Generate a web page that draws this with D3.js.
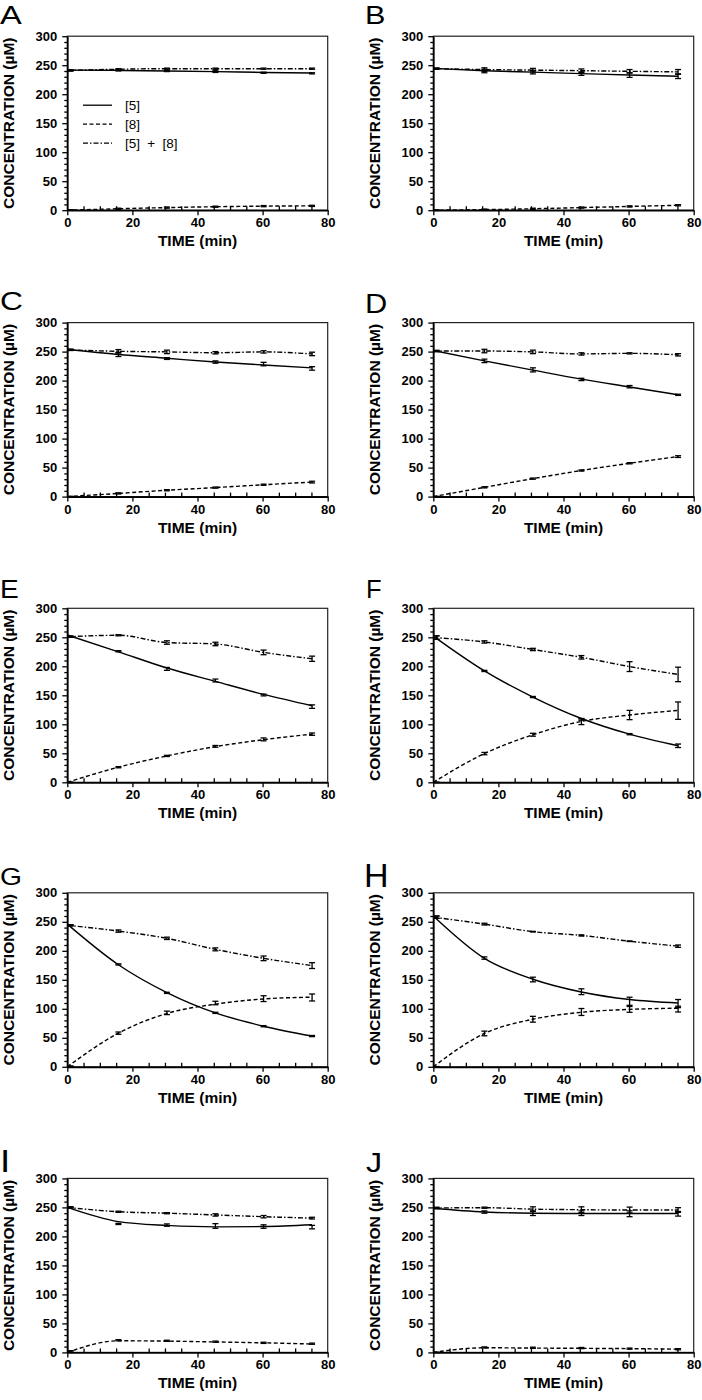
<!DOCTYPE html>
<html><head><meta charset="utf-8">
<script src="https://cdn.jsdelivr.net/npm/d3@7/dist/d3.min.js"></script>
<style>
body{margin:0;background:#fff}
svg{display:block}
text{font-family:"Liberation Sans",Arial,Helvetica,sans-serif;fill:#000}
</style>
</head><body>
<svg id="chart" width="702" height="1400"></svg>
<script>
// ---------- DATA ----------
const panelLabels = ["A","B","C","D","E","F","G","H","I","J"];
const times    = [1, 15.7, 30.6, 45.5, 60.3, 75.2];   // sampling times (min)
const fitTimes = [0, 15.7, 30.6, 45.5, 60.3, 75.2];   // curve knots (min)
const xTickValues = [0, 20, 40, 60, 80];
const yTickValues = [0, 50, 100, 150, 200, 250, 300];
const legendLabels = ["[5]", "[8]", "[5] + [8]"];
const xTitle = "TIME (min)";
const yTitle = "CONCENTRATION (\u00B5M)";

// [5] mean and error
const conc5 = [
  [241, 241, 240, 239, 237, 236],
  [244, 240, 238, 235.5, 233, 231],
  [253, 245, 238, 232, 228.5, 221],
  [251, 234, 218.5, 202, 189.5, 175.5],
  [251, 226, 195.5, 175.5, 150.5, 130.5],
  [249.5, 192, 147, 108.5, 83, 63],
  [244, 176.5, 127.5, 93, 70, 53],
  [258, 187.5, 150.5, 129.5, 112, 109],
  [250, 221.5, 219.5, 218, 217, 216],
  [249, 242, 240, 240, 239, 239]
];
const conc5Err = [
  [1, 1, 1, 1.5, 1, 1],
  [1, 3, 3, 3, 4, 4],
  [1, 3.5, 1.5, 2, 3, 3],
  [1, 3, 3.5, 2, 2, 1],
  [1, 1, 2.5, 2.5, 1.5, 3],
  [3, 1, 1, 1.5, 1, 3],
  [1, 1, 1, 1, 1, 1],
  [2, 2, 4, 5, 8, 7],
  [1, 1, 2, 4, 3, 3],
  [1, 2, 4, 4, 5, 4]
];
// [8] mean and error
const conc8 = [
  [0.5, 2.5, 4.5, 6, 7, 7.5],
  [0, 1, 2.5, 4.5, 6.5, 8.5],
  [0, 5.5, 11, 15.5, 20.5, 25],
  [0, 16, 31, 45, 57.5, 69],
  [0, 26, 45.5, 62, 74, 83],
  [0, 49.5, 82, 104.5, 116, 123.5],
  [1, 58, 93, 110, 117.5, 119.5],
  [0, 57.5, 82, 94.5, 100, 99.5],
  [2, 21, 20, 18.5, 16.5, 15],
  [0, 8.5, 8, 7.5, 6.5, 5.5]
];
const conc8Err = [
  [0.5, 1, 1, 1, 1, 1],
  [0.5, 1, 1, 1, 1, 1],
  [0.5, 1, 1, 1, 1, 1.5],
  [0.5, 1, 1, 1, 1, 1.5],
  [0.5, 1, 1, 1.5, 2.5, 2],
  [0.5, 2, 2.5, 5, 8, 15],
  [0.5, 2, 3, 3, 5, 6],
  [0.5, 4, 5, 6, 6, 5],
  [1, 1, 1, 1, 1, 1],
  [0.5, 1, 1, 1, 1, 1]
];
// [5]+[8] mean and error
const concSum = [
  [241, 243, 244, 244, 244, 244],
  [244, 242.5, 241.5, 240.5, 239.5, 238.5],
  [253, 250.5, 249.5, 248, 249.5, 246],
  [251, 251, 249.5, 246, 247, 244.5],
  [251, 253.5, 241, 238.5, 224, 213],
  [249.5, 242, 229, 215.5, 199.5, 186],
  [244, 234, 221.5, 202.5, 187, 174.5],
  [258, 246, 233, 226.5, 216.5, 208],
  [250, 242.5, 240, 237, 234, 231.5],
  [249, 249.5, 247, 246, 245.5, 245.5]
];
const concSumErr = [
  [1, 1, 1, 1, 1, 1],
  [1, 3, 3, 3, 3, 4],
  [1, 3, 3, 2, 2, 3],
  [1, 3, 3, 2, 1, 2],
  [1, 1, 3, 3, 4, 4.5],
  [3, 2, 2, 3, 8.5, 12.5],
  [1, 2, 2, 2.5, 4, 5],
  [2, 1.5, 0.5, 1, 0.5, 2],
  [1, 1, 1, 2, 2, 1.5],
  [1, 1, 4, 5, 5, 4]
];
// fitted curves (values at fitTimes)
const fit5 = [
  [241.5, 241, 240, 239, 237.5, 236.5],
  [244.5, 240.5, 238, 235.5, 233, 231],
  [254, 245, 238.5, 232, 227, 222],
  [252, 234, 218, 202.5, 189, 175.5],
  [254, 225, 197, 174, 151.5, 132],
  [252, 192, 147, 110, 83, 63],
  [246, 176, 128, 93, 70, 53],
  [260, 187, 151, 129, 116, 110],
  [250, 225.5, 219, 216.5, 217, 220],
  [248.5, 242, 240, 239.5, 239.5, 239.5]
];
const fit8 = [
  [0, 2.5, 4.5, 6, 7, 7.5],
  [0, 1, 2.5, 4.5, 6.5, 8.5],
  [0, 5.5, 11, 15.5, 20.5, 25],
  [0, 16, 31, 45, 57.5, 69],
  [0, 26, 45.5, 61.5, 73.5, 83],
  [0, 49.5, 82, 105, 116, 124],
  [0, 58, 92, 108, 117, 120],
  [0, 57.5, 82, 94, 99, 101],
  [0, 20, 19.5, 18, 16.5, 14.5],
  [0, 8, 7.5, 7, 6.5, 5.5]
];

// ---------- LAYOUT ----------
const colX0 = [67.3, 433.3];
const rowTop = [36.2, 322.6, 608.3, 892.8, 1178.4];
const plotW = 260.4, plotH = 174;
// panel letter: font size, horizontal scale, baseline offset from plot top
const letterStyle = [
  {size: 25.5, sx: 1.28, dy: -12.7, dx: 0},
  {size: 25.5, sx: 1.2,  dy: -12.7, dx: -1},
  {size: 26.5, sx: 1.2,  dy: -13,   dx: 0},
  {size: 28,   sx: 1.1,  dy: -9.4,  dx: -1},
  {size: 25.5, sx: 1.1,  dy: -10,   dx: 0},
  {size: 25.5, sx: 1.0,  dy: -10,   dx: 0},
  {size: 23.5, sx: 1.2,  dy: -8,    dx: 0},
  {size: 34,   sx: 1.0,  dy: -6,    dx: -2},
  {size: 32,   sx: 1.15, dy: -6.3,  dx: 0},
  {size: 28,   sx: 1.15, dy: -6.3,  dx: 0}
];
const styles = {
  c5:  {dash: null},
  c8:  {dash: "4,2.5"},
  sum: {dash: "5,2,1.5,2"}
};

const svg = d3.select("#chart");

panelLabels.forEach((lab, p) => {
  const col = p % 2, row = Math.floor(p / 2);
  const x0 = colX0[col], top = rowTop[row];
  const x = d3.scaleLinear().domain([0, 80]).range([x0, x0 + plotW]);
  const y = d3.scaleLinear().domain([0, 300]).range([top + plotH, top]);
  const g = svg.append("g");

  // frame
  g.append("rect").attr("x", x0).attr("y", top).attr("width", plotW).attr("height", plotH)
    .attr("fill", "none").attr("stroke", "#222").attr("stroke-width", 1.2);

  // minor ticks x (inward), every 5
  const xMinor = d3.range(0, 81, 5).filter(v => v % 20 !== 0);
  const gxm = g.append("g").attr("transform", `translate(0,${top + plotH})`)
    .call(d3.axisBottom(x).tickValues(xMinor).tickSize(-4).tickFormat(""));
  gxm.select(".domain").remove();
  // minor ticks y (outward), every 10
  const yMinor = d3.range(0, 301, 10).filter(v => v % 50 !== 0);
  const gym = g.append("g").attr("transform", `translate(${x0},0)`)
    .call(d3.axisLeft(y).tickValues(yMinor).tickSize(3).tickFormat(""));
  gym.select(".domain").remove();

  // major axes
  const gx = g.append("g").attr("transform", `translate(0,${top + plotH})`)
    .call(d3.axisBottom(x).tickValues(xTickValues).tickSize(5).tickSizeOuter(0).tickPadding(2.8));
  const gy = g.append("g").attr("transform", `translate(${x0},0)`)
    .call(d3.axisLeft(y).tickValues(yTickValues).tickSize(5).tickSizeOuter(0).tickPadding(5));
  [gx, gy, gxm, gym].forEach(a => {
    a.selectAll("line").attr("stroke", "#000").attr("stroke-width", 1.3);
    a.selectAll("text").attr("font-size", 13).attr("font-weight", "bold")
      .attr("font-family", '"Liberation Sans",Arial,sans-serif').attr("fill", "#000");
  });
  [gx, gy].forEach(a => a.select(".domain").attr("stroke", "#000").attr("stroke-width", 1.7));

  // axis titles
  g.append("text").attr("x", (x0 + x0 + plotW) / 2).attr("y", top + plotH + 36)
    .attr("text-anchor", "middle").attr("font-size", 15.5).attr("font-weight", "bold").text(xTitle);
  g.append("text").attr("transform", `translate(${x0 - 53.3},${top + plotH / 2}) rotate(-90)`)
    .attr("text-anchor", "middle").attr("font-size", 15.5).attr("font-weight", "bold").text(yTitle);

  // panel letter
  const ls = letterStyle[p];
  const lx = (col === 0 ? 0 : 366) + ls.dx;
  g.append("text").attr("transform", `translate(${lx},${top + ls.dy}) scale(${ls.sx},1)`)
    .attr("font-size", ls.size).attr("font-weight", "normal").text(lab);

  // curves
  const line = d3.line().x(d => x(d[0])).y(d => y(d[1])).curve(d3.curveMonotoneX);
  const series = [
    {fit: fit5[p], mean: conc5[p], err: conc5Err[p], st: styles.c5},
    {fit: fit8[p], mean: conc8[p], err: conc8Err[p], st: styles.c8},
    {fit: concSum[p], mean: concSum[p], err: concSumErr[p], st: styles.sum}
  ];
  series.forEach(s => {
    g.append("path").datum(fitTimes.map((t, i) => [t, s.fit[i]]))
      .attr("d", line).attr("fill", "none").attr("stroke", "#000").attr("stroke-width", 1.4)
      .attr("stroke-dasharray", s.st.dash);
  });
  // error bars
  series.forEach(s => {
    const eg = g.append("g").attr("stroke", "#000").attr("stroke-width", 1.3);
    times.forEach((t, i) => {
      const cx = x(t), yt = y(s.mean[i] + s.err[i]), yb = y(s.mean[i] - s.err[i]);
      eg.append("line").attr("x1", cx).attr("x2", cx).attr("y1", yt).attr("y2", yb);
      eg.append("line").attr("x1", cx - 3).attr("x2", cx + 3).attr("y1", yt).attr("y2", yt);
      eg.append("line").attr("x1", cx - 3).attr("x2", cx + 3).attr("y1", yb).attr("y2", yb);
    });
  });

  // legend (panel A only)
  if (p === 0) {
    const lg = g.append("g");
    const dashes = [styles.c5.dash, styles.c8.dash, styles.sum.dash];
    legendLabels.forEach((t, i) => {
      const ly = top + 69 + i * 19;
      lg.append("line").attr("x1", x0 + 15.7).attr("x2", x0 + 44.7).attr("y1", ly).attr("y2", ly)
        .attr("stroke", "#000").attr("stroke-width", 1.3).attr("stroke-dasharray", dashes[i]);
      lg.append("text").attr("x", x0 + 57.7).attr("y", ly + 5)
        .attr("font-size", 13.5).attr("font-weight", "normal")
        .attr("word-spacing", 3.5).style("white-space", "pre").text(t);
    });
  }
});
</script>
</body></html>
